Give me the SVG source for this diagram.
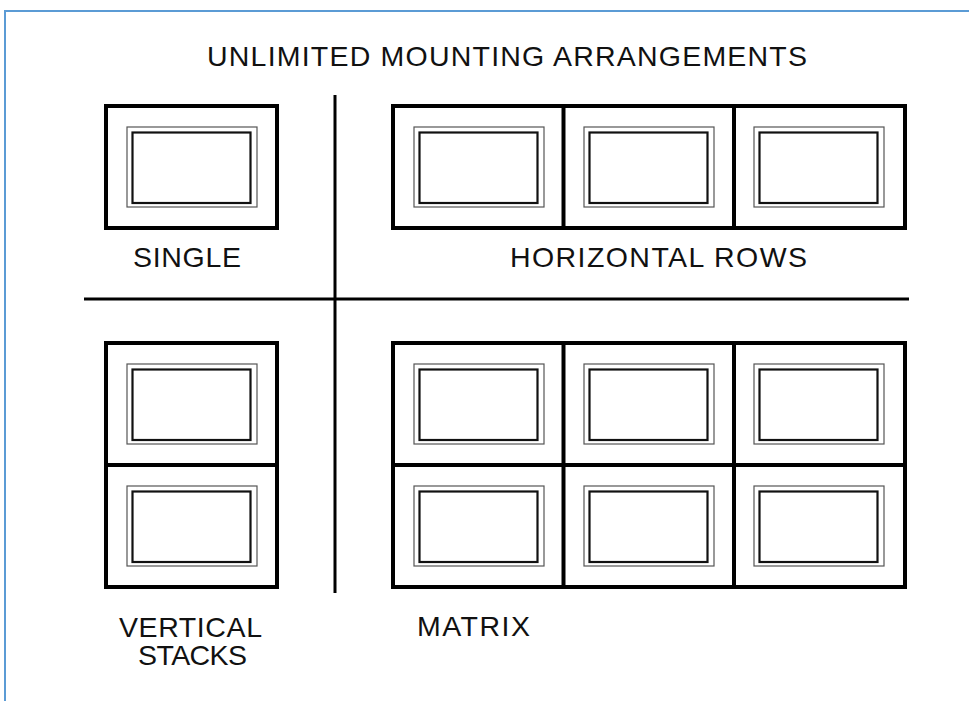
<svg xmlns="http://www.w3.org/2000/svg" width="969" height="701" viewBox="0 0 969 701">
<defs>
<style>
.frame{fill:none;stroke:#5b9bd5;stroke-width:2}
.outer{fill:#fff;stroke:#000;stroke-width:4}
.div{stroke:#000;stroke-width:4}
.thin{fill:none;stroke:#555;stroke-width:1.2}
.inner{fill:#fff;stroke:#111;stroke-width:2.2}
.sep{stroke:#000;stroke-width:3}
.lbl{font-family:"Liberation Sans",Arial,sans-serif;font-size:28.5px;fill:#111}
</style>
<g id="panel">
<rect class="thin" x="21" y="21" width="130" height="80"/>
<rect class="inner" x="26.5" y="26.5" width="118" height="70.5"/>
</g>
</defs>
<rect width="969" height="701" fill="#fff"/>
<path class="frame" d="M5,701 V11 H969"/>
<text class="lbl" x="207" y="66" textLength="600" lengthAdjust="spacing">UNLIMITED MOUNTING ARRANGEMENTS</text>
<g id="connectors">
<line class="sep" x1="335" y1="95" x2="335" y2="593"/>
<line class="sep" x1="84" y1="299" x2="909" y2="299"/>
</g>
<g id="single">
<rect class="outer" x="106" y="106" width="171" height="122"/>
<use href="#panel" x="106" y="106"/>
<text class="lbl" x="133" y="267" textLength="108" lengthAdjust="spacing">SINGLE</text>
</g>
<g id="horizontal-rows">
<rect class="outer" x="393" y="106" width="512" height="122"/>
<line class="div" x1="563.5" y1="106" x2="563.5" y2="228"/>
<line class="div" x1="734" y1="106" x2="734" y2="228"/>
<use href="#panel" x="393" y="106"/>
<use href="#panel" x="563" y="106"/>
<use href="#panel" x="733" y="106"/>
<text class="lbl" x="510" y="267" textLength="297" lengthAdjust="spacing">HORIZONTAL ROWS</text>
</g>
<g id="vertical-stacks">
<rect class="outer" x="106" y="343" width="171" height="244"/>
<line class="div" x1="106" y1="465" x2="277" y2="465"/>
<use href="#panel" x="106" y="343"/>
<use href="#panel" x="106" y="465"/>
<text class="lbl" x="119" y="637" textLength="143" lengthAdjust="spacing">VERTICAL</text>
<text class="lbl" x="138" y="665" textLength="109" lengthAdjust="spacing">STACKS</text>
</g>
<g id="matrix">
<rect class="outer" x="393" y="343" width="512" height="244"/>
<line class="div" x1="563.5" y1="343" x2="563.5" y2="587"/>
<line class="div" x1="734" y1="343" x2="734" y2="587"/>
<line class="div" x1="393" y1="465" x2="905" y2="465"/>
<use href="#panel" x="393" y="343"/>
<use href="#panel" x="563" y="343"/>
<use href="#panel" x="733" y="343"/>
<use href="#panel" x="393" y="465"/>
<use href="#panel" x="563" y="465"/>
<use href="#panel" x="733" y="465"/>
<text class="lbl" x="417" y="636" textLength="113" lengthAdjust="spacing">MATRIX</text>
</g>
</svg>
